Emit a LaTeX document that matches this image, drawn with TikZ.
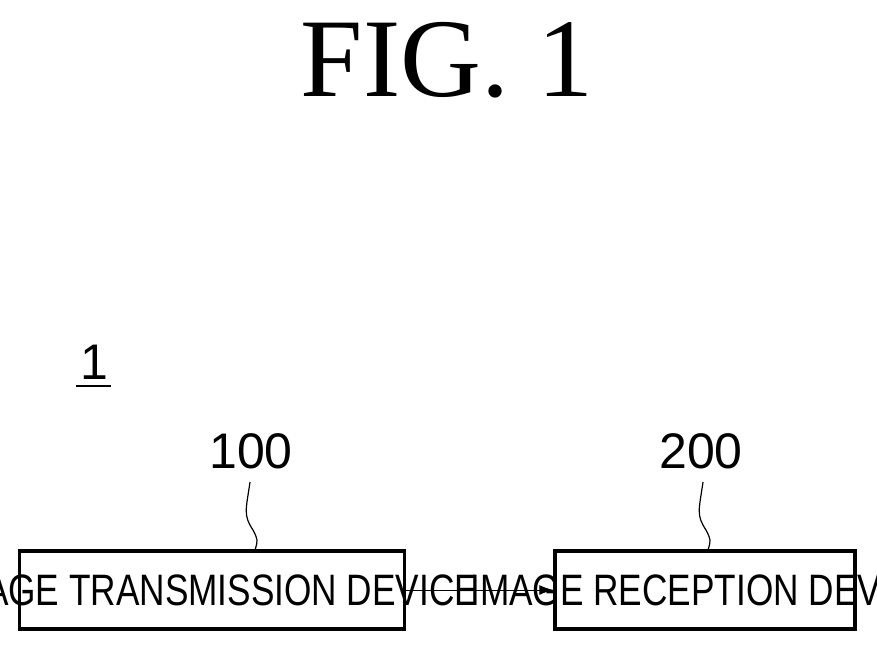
\documentclass[tikz,border=0pt]{standalone}
\usepackage{fontspec}
\setmainfont{Liberation Serif}
\setsansfont{Liberation Sans}
\usetikzlibrary{arrows.meta}

\begin{document}
\begin{tikzpicture}[x=1pt,y=-1pt,
    devbox/.style={font=\sffamily\fontsize{44}{44}\selectfont,xscale=0.8,transform shape},
    reflabel/.style={font=\sffamily\fontsize{50}{50}\selectfont}]
            \useasboundingbox (0,0) rectangle (877,651);
            \node (title) at (447,60) {\fontsize{112}{112}\selectfont FIG. 1};
            \node[reflabel] (sys) at (94,362) {1};
            \draw[line width=1.5pt] (76,386)--(111,386);
            \node[draw,line width=3.5pt,minimum width=385pt,minimum height=78pt] (tx) at (212,590) {};
            \node[devbox] at (tx) {IMAGE TRANSMISSION DEVICE};
            \node[draw,line width=3.5pt,minimum width=300pt,minimum height=78pt] (rx) at (705,590) {};
            \node[devbox] at (rx) {IMAGE RECEPTION DEVICE};
            \draw[-{Latex[length=14pt,width=10pt]},line width=1pt] (tx.east)--(rx.west);
            \node[reflabel] (l100) at (251,451) {100};
            \node[reflabel] (l200) at (701,451) {200};
            % leader lines
            \draw[line width=1.2pt] (250,482) .. controls (246,510) and (243,515) .. (253,530) .. controls (258,540) .. (255,550);
            \draw[line width=1.2pt] (703,482) .. controls (699,510) and (696,515) .. (706,530) .. controls (711,540) .. (708,550);
        \end{tikzpicture}
\end{document}
